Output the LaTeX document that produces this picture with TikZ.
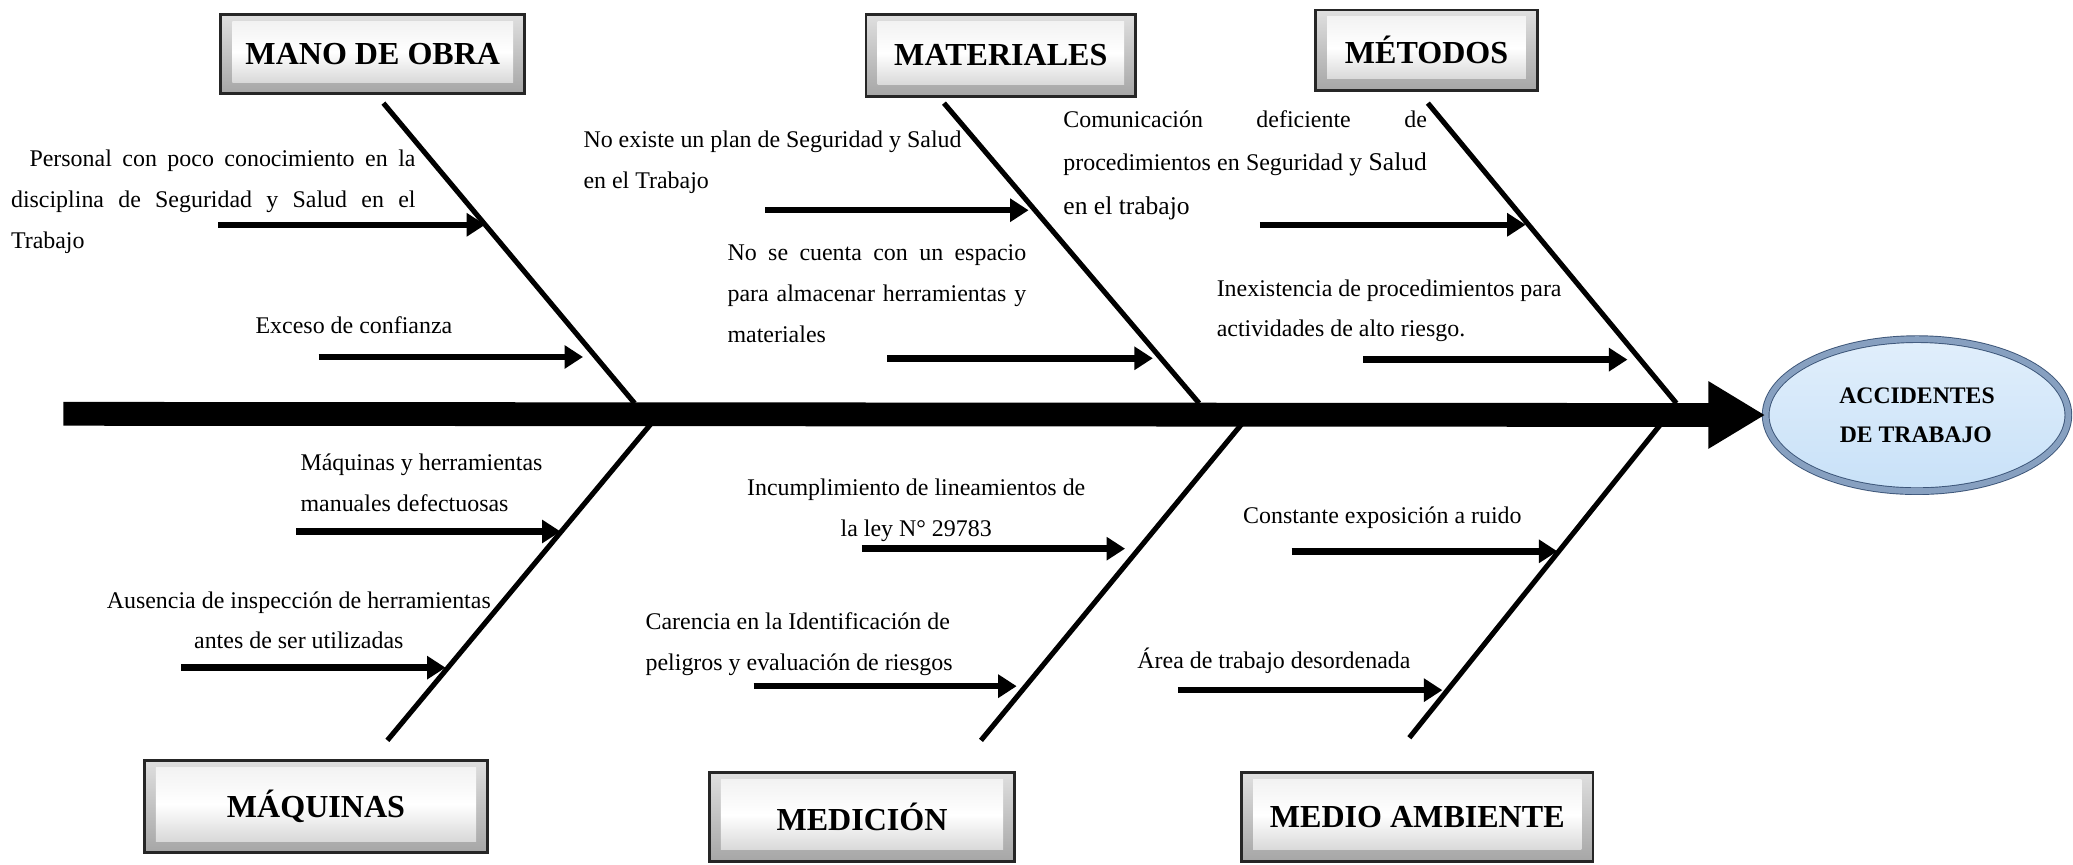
\documentclass[tikz,border=0pt]{standalone}
\usepackage{fontspec}
\setmainfont{Liberation Serif}
\usetikzlibrary{arrows.meta,shapes.geometric}
\definecolor{celeste}{RGB}{200,225,248}
\definecolor{borde}{RGB}{60,85,120}
\definecolor{bordeclaro}{RGB}{135,160,192}

\begin{document}
\begin{tikzpicture}[x=0.02cm,y=-0.02cm,
	titulo/.style={draw=black!85,line width=1.2pt,inner sep=0pt,font=\bfseries\fontsize{13.8}{16}\selectfont,
		path picture={
			\shade[top color=gray!25,bottom color=gray!70] (path picture bounding box.south west) rectangle (path picture bounding box.north east);
			\shade[top color=gray!10,bottom color=gray!30,middle color=white] ([xshift=5pt,yshift=-3pt]path picture bounding box.north west) rectangle ([xshift=-5pt,yshift=5pt]path picture bounding box.south east);}},
	efecto/.style={ellipse,draw=borde,double=bordeclaro,double distance=2.5pt,top color=celeste!55!white,bottom color=celeste,
		minimum width=4.58cm,minimum height=2.3cm,align=center,font=\bfseries\fontsize{10.2}{17}\selectfont},
	texto/.style={inner sep=0pt,font=\fontsize{10.3}{17.6}\selectfont},
	espina/.style={line width=0.36cm,-{Triangle[length=0.86cm,width=0.96cm]}},
	hueso/.style={line width=2.2pt},
	causa/.style={line width=2.8pt,-{Triangle[length=0.28cm,width=0.34cm]}}]
			\useasboundingbox (0,0) rectangle (1568,654);

			\node[titulo,minimum width=4.6cm,minimum height=1.2cm] (ManoObra) at (282,41) {MANO DE OBRA};
			\node[titulo,minimum width=4.08cm,minimum height=1.24cm] (Materiales) at (757,42) {MATERIALES};
			\node[titulo,minimum width=3.36cm,minimum height=1.22cm] (Metodos) at (1079,38) {MÉTODOS};
			\node[titulo,minimum width=5.2cm,minimum height=1.4cm] (Maquinas) at (239,610) {MÁQUINAS};
			\node[titulo,minimum width=4.62cm,minimum height=1.34cm] (Medicion) at (652,618) {MEDICIÓN};
			\node[titulo,minimum width=5.32cm,minimum height=1.34cm] (MedioAmbiente) at (1072,618) {MEDIO AMBIENTE};
			\node[efecto] (Accidentes) at (1450,314) {ACCIDENTES\\DE TRABAJO\hspace*{1pt}};

			\node[texto,anchor=north west,text width=6.12cm,align=justify] (Personal) at (8,113) {\hspace*{0.28cm}Personal con poco conocimiento en la\linebreak disciplina de Seguridad y Salud en el\linebreak Trabajo};
			\node[texto,anchor=north west] (Exceso) at (193,239) {Exceso de confianza};
			\node[texto,anchor=north west,align=left] (Plan) at (441,99) {No existe un plan de Seguridad y Salud\\en el Trabajo};
			\node[texto,anchor=north west,text width=4.52cm,align=justify] (Espacio) at (550,185) {No se cuenta con un espacio\linebreak para almacenar herramientas y\linebreak materiales};
			\node[texto,anchor=north west,text width=5.5cm,align=justify,font=\fontsize{10.3}{18.8}\selectfont] (Comunicacion) at (804,83) {Comunicación deficiente de\linebreak procedimientos en Seguridad {\fontsize{11}{18.8}\selectfont y Salud}\linebreak {\fontsize{11}{18.8}\selectfont en el trabajo}};
			\node[texto,anchor=north west,align=left] (Inexistencia) at (920,211) {Inexistencia de procedimientos para\\actividades de alto riesgo.};
			\node[texto,anchor=north west,align=left] (Herramientas) at (227,343) {Máquinas y herramientas\\manuales defectuosas};
			\node[texto,anchor=north,align=center] (Inspeccion) at (226,447) {Ausencia de inspección de herramientas\\antes de ser utilizadas};
			\node[texto,anchor=north,align=center] (Ley) at (693,362) {Incumplimiento de lineamientos de\\la ley N° 29783};
			\node[texto,anchor=north west,align=left] (Peligros) at (488,463) {Carencia en la Identificación de\\peligros y evaluación de riesgos};
			\node[texto,anchor=north west] (Ruido) at (940,383) {Constante exposición a ruido};
			\node[texto,anchor=north west] (Desorden) at (860,490) {Área de trabajo desordenada};

			\coordinate (cola) at (48,313);
			\coordinate (moA) at (290,78);   \coordinate (moB) at (480,305);
			\coordinate (matA) at (714,78);  \coordinate (matB) at (907,305);
			\coordinate (metA) at (1080,78); \coordinate (metB) at (1268,305);
			\coordinate (maqA) at (492,321); \coordinate (maqB) at (293,560);
			\coordinate (medA) at (939,321); \coordinate (medB) at (742,560);
			\coordinate (maA) at (1256,321); \coordinate (maB) at (1066,558);

			\coordinate (mo1i) at (165,170);   \coordinate (mo1f) at (367,170);
			\coordinate (mo2i) at (241,270);   \coordinate (mo2f) at (441,270);
			\coordinate (mat1i) at (579,159);  \coordinate (mat1f) at (778,159);
			\coordinate (mat2i) at (671,271);  \coordinate (mat2f) at (872,271);
			\coordinate (met1i) at (953,170);  \coordinate (met1f) at (1154,170);
			\coordinate (met2i) at (1031,272); \coordinate (met2f) at (1231,272);
			\coordinate (maq1i) at (224,402);  \coordinate (maq1f) at (424,402);
			\coordinate (maq2i) at (137,505);  \coordinate (maq2f) at (337,505);
			\coordinate (med1i) at (652,415);  \coordinate (med1f) at (851,415);
			\coordinate (med2i) at (570,519);  \coordinate (med2f) at (769,519);
			\coordinate (ma1i) at (977,417);   \coordinate (ma1f) at (1178,417);
			\coordinate (ma2i) at (891,522);   \coordinate (ma2f) at (1091,522);

			\draw[espina] (cola) to (Accidentes);
			\foreach \h in {mo,mat,met,maq,med,ma}
				\draw[hueso] (\h A) to (\h B);
			\foreach \h in {mo1,mo2,mat1,mat2,met1,met2,maq1,maq2,med1,med2,ma1,ma2}
				\draw[causa] (\h i) to (\h f);
\end{tikzpicture}
\end{document}
